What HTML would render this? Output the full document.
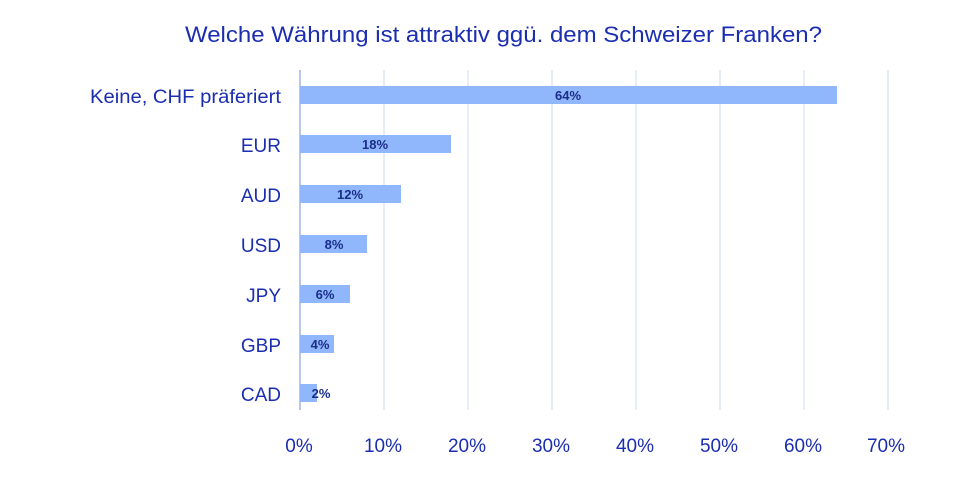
<!DOCTYPE html><html><head><meta charset="utf-8"><style>
body{margin:0;width:960px;height:478px;background:#fff;overflow:hidden}
svg text{font-family:"Liberation Sans",sans-serif}
</style></head><body>
<svg width="960" height="478" xmlns="http://www.w3.org/2000/svg">
<text x="185" y="42" font-size="22" fill="#1b2db0" textLength="637" lengthAdjust="spacingAndGlyphs">Welche Währung ist attraktiv ggü. dem Schweizer Franken?</text>
<g stroke="#dde6f5" stroke-width="1.5">
<line x1="384" y1="70" x2="384" y2="410"/><line x1="468" y1="70" x2="468" y2="410"/><line x1="552" y1="70" x2="552" y2="410"/><line x1="636" y1="70" x2="636" y2="410"/><line x1="720" y1="70" x2="720" y2="410"/><line x1="804" y1="70" x2="804" y2="410"/><line x1="888" y1="70" x2="888" y2="410"/>
</g>
<line x1="300" y1="70" x2="300" y2="410" stroke="#b8c8ea" stroke-width="2"/>
<g fill="#90b7fb">
<rect x="300" y="86" width="537" height="18"/>
<rect x="300" y="135" width="151" height="18"/>
<rect x="300" y="185" width="101" height="18"/>
<rect x="300" y="235" width="67" height="18"/>
<rect x="300" y="285" width="50" height="18"/>
<rect x="300" y="335" width="34" height="18"/>
<rect x="300" y="384" width="17" height="18"/>
</g>
<g font-size="13" font-weight="bold" fill="#1b2d8a" text-anchor="middle">
<text x="568" y="100">64%</text><text x="375" y="149">18%</text><text x="350" y="199">12%</text><text x="334" y="249">8%</text><text x="325" y="299">6%</text><text x="320" y="349">4%</text><text x="321" y="398">2%</text>
</g>
<g font-size="19" fill="#1b2db0" text-anchor="end">
<text x="281" y="103" textLength="191" lengthAdjust="spacingAndGlyphs">Keine, CHF präferiert</text><text x="281" y="152">EUR</text><text x="281" y="202">AUD</text><text x="281" y="252">USD</text><text x="281" y="302">JPY</text><text x="281" y="352">GBP</text><text x="281" y="401">CAD</text>
</g>
<g font-size="19" fill="#1b2db0" text-anchor="middle">
<text x="299" y="452">0%</text><text x="383" y="452">10%</text><text x="467" y="452">20%</text><text x="551" y="452">30%</text><text x="635" y="452">40%</text><text x="719" y="452">50%</text><text x="803" y="452">60%</text><text x="886" y="452">70%</text>
</g>
</svg>
</body></html>
